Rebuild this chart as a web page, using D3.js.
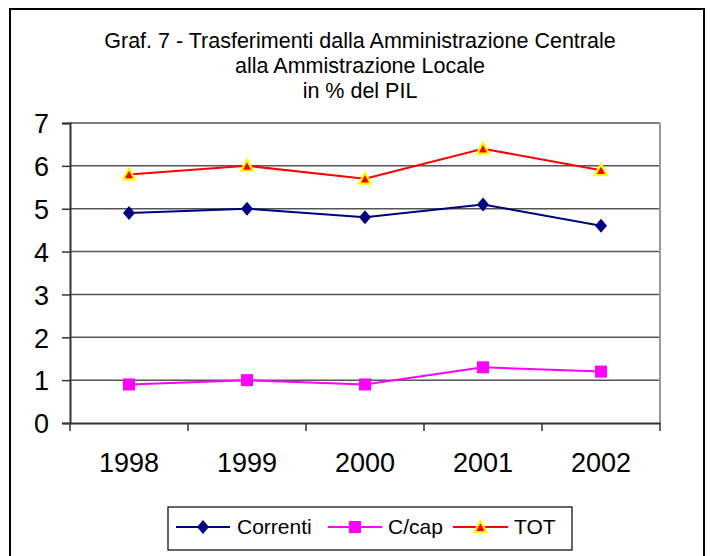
<!DOCTYPE html>
<html>
<head>
<meta charset="utf-8">
<script src="https://cdn.jsdelivr.net/npm/d3@7"></script>
<style>
  html, body { margin: 0; padding: 0; background: #fff; }
  svg { display: block; font-family: "Liberation Sans", Arial, sans-serif; }
</style>
</head>
<body>
<svg id="chart" width="710" height="556"></svg>
<script>
const years = ["1998", "1999", "2000", "2001", "2002"];
const correnti = [4.9, 5.0, 4.8, 5.1, 4.6];
const ccap = [0.9, 1.0, 0.9, 1.3, 1.2];
const tot = [5.8, 6.0, 5.7, 6.4, 5.9];
const yTicks = [0, 1, 2, 3, 4, 5, 6, 7];
const titleLines = [
  "Graf. 7 - Trasferimenti dalla Amministrazione Centrale",
  "alla Ammistrazione Locale",
  "in % del PIL"
];
const seriesNames = ["Correnti", "C/cap", "TOT"];

const svg = d3.select("#chart");

// outer frame
svg.append("rect")
  .attr("x", 10).attr("y", 9)
  .attr("width", 694).attr("height", 560)
  .attr("fill", "#fff").attr("stroke", "#000").attr("stroke-width", 2);

// title
svg.append("g").selectAll("text").data(titleLines).join("text")
  .attr("x", 360)
  .attr("y", (d, i) => 48 + i * 25)
  .attr("text-anchor", "middle")
  .attr("font-size", 21.5)
  .attr("fill", "#000")
  .text(d => d);

const plot = { left: 70, right: 660, top: 123, bottom: 423 };

const x = d3.scaleBand().domain(years).range([plot.left, plot.right]).padding(0);
const y = d3.scaleLinear().domain([0, 7]).range([plot.bottom, plot.top]);

// gridlines
svg.append("g").selectAll("line").data(yTicks.filter(t => t > 0)).join("line")
  .attr("x1", plot.left).attr("x2", plot.right)
  .attr("y1", d => y(d)).attr("y2", d => y(d))
  .attr("stroke", "#555").attr("stroke-width", 1.5);

// plot area right border
svg.append("line")
  .attr("x1", plot.right).attr("x2", plot.right)
  .attr("y1", plot.top).attr("y2", plot.bottom)
  .attr("stroke", "#999").attr("stroke-width", 2);

// y axis
const yAxis = d3.axisLeft(y).tickValues(yTicks).tickSize(8).tickPadding(13).tickFormat(d3.format("d"));
const gy = svg.append("g").attr("transform", `translate(${plot.left},0)`).call(yAxis);
gy.select(".domain").attr("stroke", "#333").attr("stroke-width", 2);
gy.selectAll(".tick line").attr("stroke", "#333").attr("stroke-width", 1.5);
gy.selectAll(".tick text").attr("font-size", 27).attr("fill", "#000")
  .attr("font-family", "Liberation Sans, Arial, sans-serif").attr("dy", "0.36em");

// x axis
const xAxis = d3.axisBottom(x).tickSize(0).tickPadding(0);
const gx = svg.append("g").attr("transform", `translate(0,${plot.bottom})`).call(xAxis);
gx.select(".domain").attr("stroke", "#333").attr("stroke-width", 2);
gx.selectAll(".tick text").attr("font-size", 27).attr("fill", "#000")
  .attr("font-family", "Liberation Sans, Arial, sans-serif")
  .attr("dy", 0).attr("y", 49);
// tick marks at band boundaries
const bounds = years.map(d => x(d)).concat([x(years[years.length - 1]) + x.bandwidth()]);
svg.append("g").selectAll("line").data(bounds).join("line")
  .attr("x1", d => d).attr("x2", d => d)
  .attr("y1", plot.bottom).attr("y2", plot.bottom + 8)
  .attr("stroke", "#333").attr("stroke-width", 1.5);

const cx = d => x(d) + x.bandwidth() / 2;

const series = [
  { name: seriesNames[0], values: correnti, color: "#000080", marker: "diamond" },
  { name: seriesNames[1], values: ccap, color: "#FF00FF", marker: "square" },
  { name: seriesNames[2], values: tot, color: "#FF0000", marker: "triangle" }
];

function drawMarker(g, type, px, py) {
  if (type === "diamond") {
    g.append("path")
      .attr("d", `M${px},${py - 7}L${px + 6},${py}L${px},${py + 7}L${px - 6},${py}Z`)
      .attr("fill", "#000080");
  } else if (type === "square") {
    g.append("rect")
      .attr("x", px - 6).attr("y", py - 6).attr("width", 12).attr("height", 12)
      .attr("fill", "#FF00FF");
  } else {
    g.append("path")
      .attr("d", `M${px},${py - 6}L${px + 6},${py + 5}L${px - 6},${py + 5}Z`)
      .attr("fill", "#FF0000").attr("stroke", "#FFFF00").attr("stroke-width", 2.2)
      .attr("stroke-linejoin", "miter");
  }
}

const line = d3.line().x((d, i) => cx(years[i])).y(d => y(d));

series.forEach(s => {
  const g = svg.append("g");
  g.append("path").datum(s.values)
    .attr("d", line)
    .attr("fill", "none").attr("stroke", s.color).attr("stroke-width", 2);
  s.values.forEach((v, i) => drawMarker(g, s.marker, cx(years[i]), y(v)));
});

// legend
const lg = svg.append("g");
lg.append("rect")
  .attr("x", 168).attr("y", 507).attr("width", 404).attr("height", 43)
  .attr("fill", "#fff").attr("stroke", "#000").attr("stroke-width", 1.2);
const legendItems = [
  { s: series[0], x0: 176, x1: 230, tx: 237 },
  { s: series[1], x0: 328, x1: 382, tx: 388 },
  { s: series[2], x0: 453, x1: 508, tx: 514 }
];
const ly = 527;
legendItems.forEach(it => {
  lg.append("line")
    .attr("x1", it.x0).attr("x2", it.x1).attr("y1", ly).attr("y2", ly)
    .attr("stroke", it.s.color).attr("stroke-width", 2);
  drawMarker(lg, it.s.marker, (it.x0 + it.x1) / 2, ly);
  lg.append("text")
    .attr("x", it.tx).attr("y", ly + 7)
    .attr("font-size", 21).attr("fill", "#000")
    .text(it.s.name);
});
</script>
</body>
</html>
